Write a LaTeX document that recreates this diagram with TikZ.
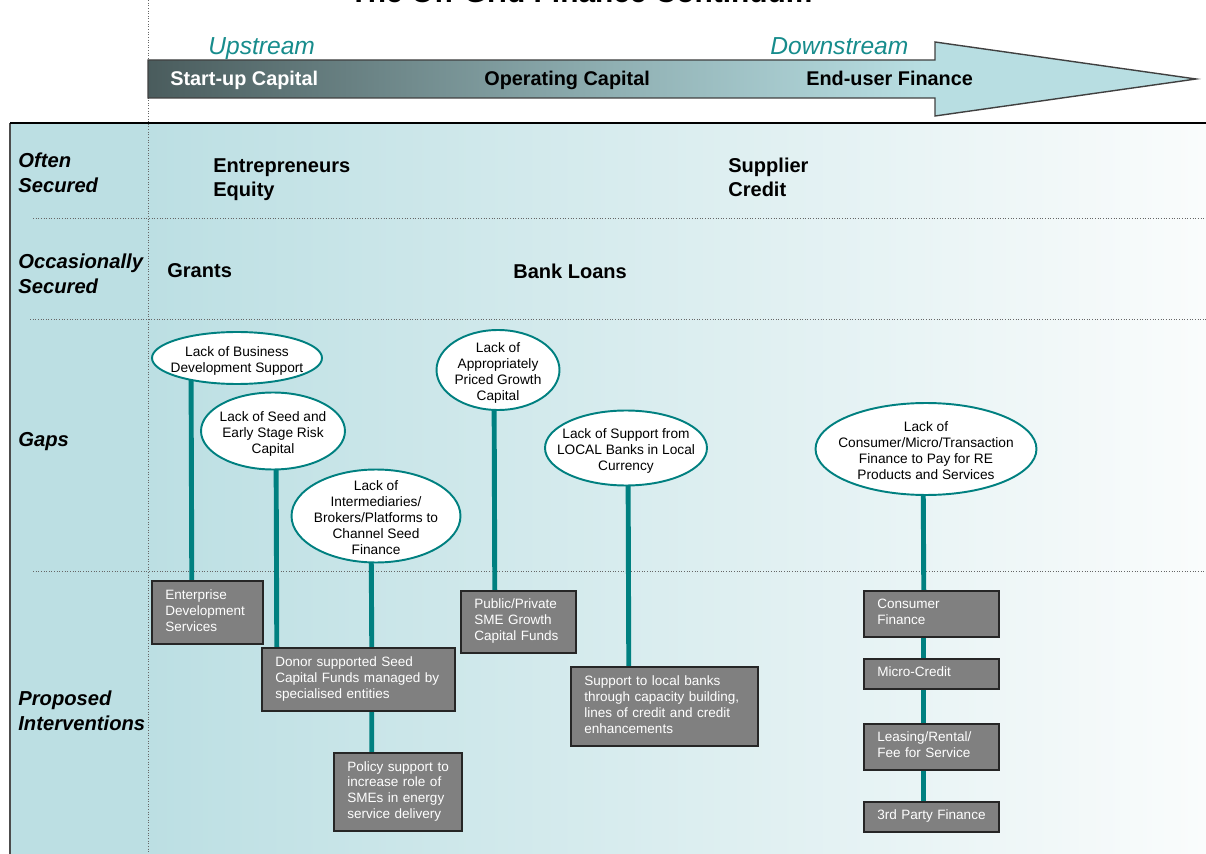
\documentclass[tikz,border=0pt]{standalone}
\usepackage{fontspec}
\setmainfont{Liberation Sans}
\usetikzlibrary{shapes.geometric,backgrounds}

\definecolor{gapteal}{HTML}{008080}
\definecolor{streamteal}{HTML}{178C8C}
\definecolor{panelleft}{HTML}{BCDFE3}
\definecolor{panelright}{HTML}{FAFCFC}
\definecolor{arrowdark}{HTML}{4A5C5D}
\definecolor{arrowmid}{HTML}{8FAFB2}
\definecolor{arrowlight}{HTML}{B8DEE2}
\definecolor{fixgray}{HTML}{808080}

\pgfdeclarehorizontalshading{streamshade}{100bp}{color(0bp)=(arrowdark); color(25bp)=(arrowdark); color(47bp)=(arrowmid); color(62bp)=(arrowlight); color(100bp)=(arrowlight)}

\pgfdeclarelayer{back}
\pgfsetlayers{back,background,main}

\newcommand{\gaptext}[1]{\smash{\makebox[0pt]{\raisebox{-.5em}{\begin{tabular}{@{}c@{}}#1\end{tabular}}}}}
\newcommand{\fixtext}[1]{\begin{tabular}{@{}l@{}}#1\end{tabular}}

\tikzset{
  gap/.style={ellipse, draw=gapteal, line width=1.1pt, fill=white, inner sep=0pt,
    font=\fontsize{7.8}{9.1}\selectfont},
  fix/.style={anchor=north west, draw=black!85, line width=0.9pt, fill=fixgray,
    text=white, inner xsep=0.27cm, inner ysep=0pt, align=left,
    font=\fontsize{7.7}{9.1}\selectfont},
  link/.style={draw=gapteal, line width=2.8pt},
  rowlabel/.style={anchor=west, inner xsep=0pt, align=left, font=\fontsize{11.5}{14.2}\selectfont\bfseries\itshape},
  source/.style={anchor=west, inner xsep=0pt, align=left, font=\fontsize{11.4}{13.6}\selectfont\bfseries},
  stage/.style={anchor=base west, inner xsep=0pt, font=\fontsize{11.3}{13}\selectfont\bfseries},
  stream/.style={anchor=base west, inner xsep=0pt, text=streamteal, font=\fontsize{14}{16}\selectfont\itshape},
  rowrule/.style={densely dotted, draw=black!60, line width=0.5pt}
}

\begin{document}
\begin{tikzpicture}[x=0.02cm, y=-0.02cm]
\useasboundingbox (0,0) rectangle (1206,854);

% panel
\begin{pgfonlayer}{back}
\fill[panelleft] (10,123) rectangle (148,854);
\shade[left color=panelleft, right color=panelright] (148,123) rectangle (1206,854);
\draw[black!70, line width=0.6pt] (10,123) -- (10,854);
\draw[rowrule] (148,0) -- (148,854);
\draw[rowrule] (33,218) -- (1206,218);
\draw[rowrule] (30,319) -- (1206,319);
\draw[rowrule] (33,571) -- (1206,571);
\end{pgfonlayer}
\draw[line width=1.4pt] (10,123) -- (1206,123);

% title and arrow
\node[anchor=base, font=\fontsize{17}{20}\selectfont\bfseries] (title) at (581,3) {The Off-Grid Finance Continuum};
\shadedraw[shading=streamshade, draw=black!75, line width=0.8pt]
  (148,60) -- (935,60) -- (935,42) -- (1196,79) -- (935,116) -- (935,98) -- (148,98) -- cycle;
\node[stream] (up) at (208,55) {Upstream};
\node[stream] (down) at (770,55) {Downstream};
\node[stage, text=white] (s1) at (170,86) {Start-up Capital};
\node[stage] (s2) at (484,86) {Operating Capital};
\node[stage] (s3) at (806,86) {End-user Finance};

% rows
\node[rowlabel] (often) at (18,173) {Often\\Secured};
\node[rowlabel] (occas) at (18,274) {Occasionally\\Secured};
\node[rowlabel] (gaps) at (18,442) {Gaps};
\node[rowlabel] (prop) at (18,711) {Proposed\\Interventions};
\node[source] (equity) at (213,180) {Entrepreneurs\\Equity};
\node[source] (supplier) at (728,177) {Supplier\\Credit};
\node[source] (grants) at (167,271) {Grants};
\node[source] (loans) at (513,271) {Bank Loans};

% gaps
\node[gap, minimum width=3.4cm, minimum height=1.04cm] (e1) at (237,358) {\gaptext{Lack of Business\\Development Support}};
\node[gap, minimum width=2.88cm, minimum height=1.54cm] (e2) at (273,431) {\gaptext{Lack of Seed and\\Early Stage Risk\\Capital}};
\node[gap, minimum width=3.38cm, minimum height=1.86cm] (e3) at (376,516) {\gaptext{Lack of\\Intermediaries/\\Brokers/Platforms to\\Channel Seed\\Finance}};
\node[gap, minimum width=2.46cm, minimum height=1.6cm] (e4) at (498,370) {\gaptext{Lack of\\Appropriately\\Priced Growth\\Capital}};
\node[gap, minimum width=3.24cm, minimum height=1.5cm] (e5) at (626,448) {\gaptext{Lack of Support from\\LOCAL Banks in Local\\Currency}};
\node[gap, minimum width=4.42cm, minimum height=1.84cm] (e6) at (926,449) {\gaptext{Lack of\\Consumer/Micro/Transaction\\Finance to Pay for RE\\Products and Services}};

% interventions
\node[fix, text width=1.68cm, minimum height=1.26cm] (b1) at (151,580) {\fixtext{Enterprise\\Development\\Services}};
\node[fix, text width=3.32cm, minimum height=1.26cm] (b2) at (261,647) {\fixtext{Donor supported Seed\\Capital Funds managed by\\specialised entities}};
\node[fix, text width=2.02cm, minimum height=1.56cm] (b3) at (333,752) {\fixtext{Policy support to\\increase role of\\SMEs in energy\\service delivery}};
\node[fix, text width=1.76cm, minimum height=1.24cm] (b4) at (460,590) {\fixtext{Public/Private\\SME Growth\\Capital Funds}};
\node[fix, text width=3.2cm, minimum height=1.58cm] (b5) at (570,666) {\fixtext{Support to local banks\\through capacity building,\\lines of credit and credit\\enhancements}};
\node[fix, text width=2.16cm, minimum height=0.92cm] (b6) at (863,590) {\fixtext{Consumer\\Finance}};
\node[fix, text width=2.16cm, minimum height=0.6cm] (b7) at (863,658) {\fixtext{Micro-Credit}};
\node[fix, text width=2.16cm, minimum height=0.92cm] (b8) at (863,723) {\fixtext{Leasing/Rental/\\Fee for Service}};
\node[fix, text width=2.16cm, minimum height=0.6cm] (b9) at (863,801) {\fixtext{3rd Party Finance}};

% links
\begin{pgfonlayer}{background}
\draw[link] ([xshift=-0.92cm]e1.center) -- ([xshift=-0.31cm]b1.north);
\draw[link] ([xshift=0.06cm]e2.center) -- ([xshift=-1.63cm]b2.north);
\draw[link] ([xshift=-0.1cm]e3.center) -- ([xshift=0.27cm]b2.north);
\draw[link] ([xshift=0.27cm]b2.south) -- ([xshift=-0.52cm]b3.north);
\draw[link] ([xshift=-0.08cm]e4.center) -- ([xshift=-0.47cm]b4.north);
\draw[link] ([xshift=0.04cm]e5.center) -- ([xshift=-0.71cm]b5.north);
\draw[link] ([xshift=-0.06cm]e6.center) -- ([xshift=-0.15cm]b6.north);
\draw[link] ([xshift=-0.15cm]b6.south) -- ([xshift=-0.15cm]b7.north);
\draw[link] ([xshift=-0.15cm]b7.south) -- ([xshift=-0.15cm]b8.north);
\draw[link] ([xshift=-0.15cm]b8.south) -- ([xshift=-0.15cm]b9.north);
\end{pgfonlayer}
\end{tikzpicture}
\end{document}
